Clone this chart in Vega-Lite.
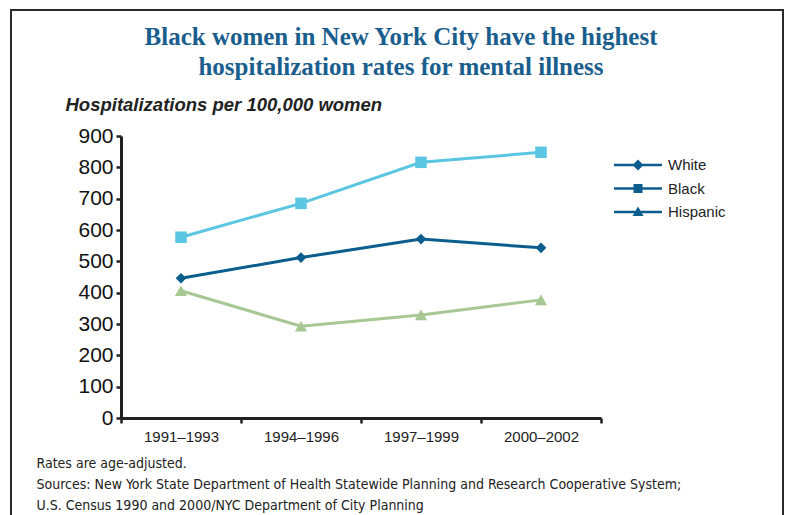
{
  "$schema": "https://vega.github.io/schema/vega-lite/v6.json",
  "width": 772,
  "height": 515,
  "autosize": "none",
  "padding": {"left": 11, "top": 10, "right": 3, "bottom": -10},
  "background": "white",
  "config": {"view": {"stroke": "#2a2a2a", "strokeWidth": 2}, "font": "Liberation Sans"},
  "title": {
    "text": ["Black women in New York City have the highest", "hospitalization rates for mental illness"],
    "font": "Liberation Serif",
    "fontWeight": "bold",
    "fontSize": 25,
    "color": "#1a5e8d",
    "anchor": "middle",
    "frame": "group",
    "dx": 4,
    "offset": 0,
    "dy": 70,
    "lineHeight": 30
  },
  "data": {
    "values": [
      {"period": "1991–1993", "group": "White", "value": 446},
      {"period": "1994–1996", "group": "White", "value": 512},
      {"period": "1997–1999", "group": "White", "value": 571},
      {"period": "2000–2002", "group": "White", "value": 543},
      {"period": "1991–1993", "group": "Black", "value": 577},
      {"period": "1994–1996", "group": "Black", "value": 685},
      {"period": "1997–1999", "group": "Black", "value": 816},
      {"period": "2000–2002", "group": "Black", "value": 848},
      {"period": "1991–1993", "group": "Hispanic", "value": 406},
      {"period": "1994–1996", "group": "Hispanic", "value": 293},
      {"period": "1997–1999", "group": "Hispanic", "value": 329},
      {"period": "2000–2002", "group": "Hispanic", "value": 377}
    ]
  },
  "encoding": {
    "x": {
      "field": "period",
      "type": "ordinal",
      "sort": null,
      "scale": {"type": "band", "paddingInner": 0, "paddingOuter": 0, "range": [110, 590]},
      "axis": {
        "offset": -107,
        "labelAngle": 0,
        "tickBand": "extent",
        "tickSize": 5,
        "tickWidth": 2.5,
        "tickColor": "#231f20",
        "domainColor": "#231f20",
        "domainWidth": 3,
        "labelFontSize": 15,
        "labelColor": "#222222",
        "labelPadding": 6,
        "title": ["Rates are age-adjusted.", "Sources: New York State Department of Health Statewide Planning and Research Cooperative System;", "U.S. Census 1990 and 2000/NYC Department of City Planning"],
        "titleFont": "'DejaVu Sans Condensed', 'Liberation Sans', sans-serif",
        "titleFontSize": 14,
        "titleFontWeight": "normal",
        "titleColor": "#222222",
        "titleAnchor": "start",
        "titleAlign": "left",
        "titleBaseline": "alphabetic",
        "titleX": 25,
        "titleY": 49,
        "titleLineHeight": 21
      }
    },
    "y": {
      "field": "value",
      "type": "quantitative",
      "scale": {"domain": [0, 900], "nice": false, "range": [408, 126]},
      "axis": {
        "offset": -110,
        "values": [0, 100, 200, 300, 400, 500, 600, 700, 800, 900],
        "grid": false,
        "tickSize": 5,
        "tickWidth": 2.5,
        "tickColor": "#231f20",
        "domainColor": "#231f20",
        "domainWidth": 3,
        "labelFontSize": 21,
        "labelColor": "#111111",
        "labelPadding": 3,
        "title": "Hospitalizations per 100,000 women",
        "titleAngle": 0,
        "titleX": -56,
        "titleY": 100,
        "titleAlign": "left",
        "titleBaseline": "alphabetic",
        "titleFontStyle": "italic",
        "titleFontWeight": "bold",
        "titleFontSize": 18.5,
        "titleColor": "#222222"
      }
    }
  },
  "layer": [
    {
      "mark": {"type": "line", "strokeWidth": 3},
      "encoding": {
        "color": {"field": "group", "type": "nominal", "scale": {"domain": ["White", "Black", "Hispanic"], "range": ["#0b5d8e", "#5ac6e2", "#a7c893"]}, "legend": null}
      }
    },
    {
      "mark": {"type": "point", "filled": true, "opacity": 1},
      "encoding": {
        "color": {"field": "group", "type": "nominal", "legend": null},
        "shape": {"field": "group", "type": "nominal", "scale": {"domain": ["White", "Black", "Hispanic"], "range": ["diamond", "square", "triangle-up"]}, "legend": null},
        "size": {"field": "group", "type": "nominal", "scale": {"domain": ["White", "Black", "Hispanic"], "range": [115, 150, 150]}, "legend": null}
      }
    },
    {
      "mark": {"type": "point", "filled": true, "opacity": 0},
      "encoding": {
        "color": {
          "field": "group",
          "type": "nominal",
          "legend": {
            "title": null,
            "orient": "none",
            "legendX": 617,
            "legendY": 145,
            "symbolSize": 400,
            "symbolStrokeWidth": 0,
            "symbolOpacity": 1,
            "symbolFillColor": "#0b5d8e",
            "labelFontSize": 15,
            "labelColor": "#222222",
            "labelOffset": 20,
            "rowPadding": 5.5
          }
        },
        "shape": {
          "field": "group",
          "type": "nominal",
          "scale": {
            "domain": ["White", "Black", "Hispanic"],
            "range": [
              "M-2.4,-0.13H2.4V0.13H-2.4Z M0,-0.55L0.55,0L0,0.55L-0.55,0Z",
              "M-2.4,-0.13H2.4V0.13H-2.4Z M-0.45,-0.45H0.45V0.45H-0.45Z",
              "M-2.4,-0.13H2.4V0.13H-2.4Z M0,-0.55L0.55,0.4H-0.55Z"
            ]
          },
          "legend": {
            "title": null,
            "orient": "none",
            "legendX": 617,
            "legendY": 145,
            "symbolSize": 400,
            "symbolStrokeWidth": 0,
            "symbolOpacity": 1,
            "symbolFillColor": "#0b5d8e",
            "labelFontSize": 15,
            "labelColor": "#222222",
            "labelOffset": 20,
            "rowPadding": 5.5
          }
        }
      }
    }
  ],
  "resolve": {"scale": {"shape": "independent"}}
}
